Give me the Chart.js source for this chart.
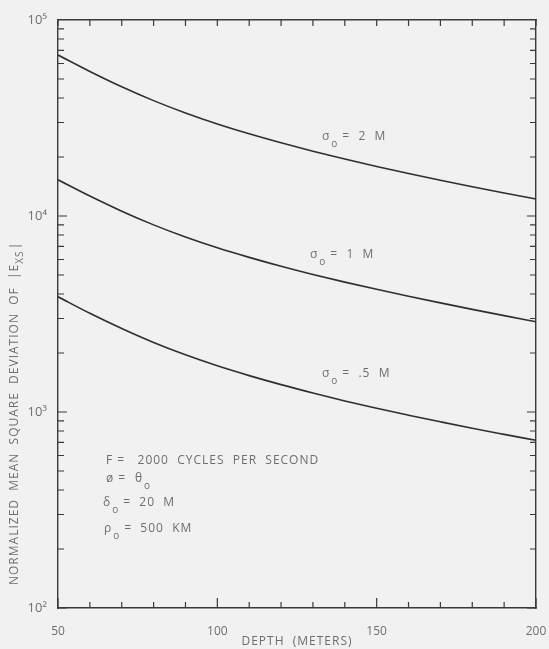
<!DOCTYPE html>
<html>
<head>
<meta charset="utf-8">
<script src="https://cdn.jsdelivr.net/npm/chart.js@4.4.1/dist/chart.umd.min.js"></script>
<style>
  html, body { margin: 0; padding: 0; background: #f1f1f1; }
  #wrap { width: 549px; height: 649px; position: relative; }
</style>
</head>
<body>
<div id="wrap"><canvas id="depthchart"></canvas></div>
<script>
const depth = [50, 60, 70, 80, 90, 100, 110, 120, 130, 140, 150, 160, 170, 180, 190, 200];
const sigma2 = [66300, 54640, 45640, 38780, 33540, 29480, 26270, 23630, 21400, 19520, 17880, 16460, 15220, 14110, 13110, 12210];
const sigma1 = [15300, 12640, 10580, 9010, 7810, 6880, 6150, 5540, 5030, 4600, 4225, 3896, 3603, 3340, 3102, 2888];
const sigma05 = [3870, 3189, 2666, 2263, 1957, 1720, 1533, 1379, 1250, 1139, 1044, 963, 891, 826, 769, 717];
const xTicks = [50, 100, 150, 200];
const yDecades = [100, 1000, 10000, 100000];
const supers = { 2: '\u00b2', 3: '\u00b3', 4: '\u2074', 5: '\u2075' };

const textColor = '#6e6e6e';
const lineColor = '#2f2f2f';
const font = '"Open Sans", "DejaVu Sans", sans-serif';

function pts(ys) {
    return depth.map((d, i) => ({ x: d, y: ys[i] }));
}

function curve(ys) {
    return {
        data: pts(ys),
        borderColor: lineColor,
        borderWidth: 1.6,
        pointRadius: 0,
        cubicInterpolationMode: 'monotone',
        fill: false
    };
}

// draws a label with an "o" subscript after the first glyph
function subLabel(ctx, sym, rest, x, y) {
    ctx.fillText(sym, x, y);
    const w = ctx.measureText(sym).width;
    ctx.save();
    ctx.font = '10px ' + font;
    ctx.fillText('o', x + w + 1, y + 7);
    ctx.restore();
    ctx.fillText(rest, x + w + 12, y);
}

const frameTicks = {
    id: 'frameTicks',
    afterDraw(chart) {
        const ctx = chart.ctx;
        const xs = chart.scales.x;
        const ys = chart.scales.y;
        const a = chart.chartArea;
        ctx.save();
        ctx.strokeStyle = '#3a3a3a';
        ctx.lineWidth = 1.2;
        ctx.beginPath();
        for (let v = 50; v <= 200; v += 10) {
            const px = xs.getPixelForValue(v);
            const len = (v % 50 === 0) ? 10 : 6;
            ctx.moveTo(px, a.bottom); ctx.lineTo(px, a.bottom - len);
            ctx.moveTo(px, a.top); ctx.lineTo(px, a.top + 6);
        }
        for (let e = 2; e <= 4; e++) {
            for (let m = 1; m <= 9; m++) {
                const py = ys.getPixelForValue(m * Math.pow(10, e));
                const len = m === 1 ? 9 : 6;
                ctx.moveTo(a.left, py); ctx.lineTo(a.left + len, py);
                ctx.moveTo(a.right, py); ctx.lineTo(a.right - len, py);
            }
        }
        ctx.stroke();

        // curve labels and parameter block
        ctx.fillStyle = textColor;
        ctx.font = '12px ' + font;
        ctx.letterSpacing = '1px';
        ctx.textBaseline = 'middle';
        ctx.textAlign = 'left';
        subLabel(ctx, '\u03c3', '=  2  M', 322, 137);
        subLabel(ctx, '\u03c3', '=  1  M', 310, 255);
        subLabel(ctx, '\u03c3', '=  .5  M', 322, 374);

        ctx.fillText('F =   2000  CYCLES  PER  SECOND', 106, 461);
        ctx.fillText('\u00f8 =', 106, 479);
        subLabel(ctx, '\u03b8', '', 135, 479);
        subLabel(ctx, '\u03b4', '=  20  M', 103, 503);
        subLabel(ctx, '\u03c1', '=  500  KM', 104, 529);

        // x axis title
        ctx.textAlign = 'center';
        ctx.fillText('DEPTH  (METERS)', (a.left + a.right) / 2, 642);

        // y axis title, rotated
        ctx.translate(15, 585);
        ctx.rotate(-Math.PI / 2);
        ctx.textAlign = 'left';
        const main = 'NORMALIZED  MEAN  SQUARE  DEVIATION  OF  ';
        ctx.fillText(main, 0, 0);
        let w = ctx.measureText(main).width;
        ctx.fillText('|E', w, 0);
        w += ctx.measureText('|E').width;
        ctx.font = '10px ' + font;
        ctx.fillText('XS', w, 5);
        w += ctx.measureText('XS').width + 1;
        ctx.font = '13px ' + font;
        ctx.fillText('|', w, 0);
        ctx.restore();
    }
};

function noPad(s) {
    s.paddingLeft = 0;
    s.paddingRight = 0;
}

new Chart(document.getElementById('depthchart'), {
    type: 'line',
    data: {
        datasets: [curve(sigma2), curve(sigma1), curve(sigma05)]
    },
    options: {
        responsive: true,
        maintainAspectRatio: false,
        animation: false,
        layout: { padding: 0 },
        plugins: {
            legend: { display: false },
            tooltip: { enabled: false }
        },
        scales: {
            x: {
                type: 'linear',
                position: 'bottom',
                min: 50,
                max: 200,
                afterBuildTicks: s => { s.ticks = xTicks.map(v => ({ value: v })); },
                afterFit: s => { s.height = 41; noPad(s); },
                ticks: { color: textColor, font: { family: font, size: 12 }, padding: 8, maxRotation: 0 },
                grid: { display: false },
                border: { color: '#3a3a3a', width: 1.4 }
            },
            xTop: {
                type: 'linear',
                position: 'top',
                min: 50,
                max: 200,
                afterFit: s => { s.height = 20; noPad(s); },
                ticks: { display: false },
                grid: { display: false },
                border: { color: '#3a3a3a', width: 1.4 }
            },
            y: {
                type: 'logarithmic',
                position: 'left',
                min: 100,
                max: 100000,
                afterBuildTicks: s => { s.ticks = yDecades.map(v => ({ value: v })); },
                afterFit: s => { s.width = 58; s.paddingTop = 0; s.paddingBottom = 0; },
                ticks: {
                    color: textColor,
                    font: { family: font, size: 13 },
                    padding: 3,
                    callback: v => '10' + supers[Math.round(Math.log10(v))]
                },
                grid: { display: false },
                border: { color: '#3a3a3a', width: 1.4 }
            },
            yRight: {
                type: 'logarithmic',
                position: 'right',
                min: 100,
                max: 100000,
                afterFit: s => { s.width = 13; },
                ticks: { display: false },
                grid: { display: false },
                border: { color: '#3a3a3a', width: 1.4 }
            }
        }
    },
    plugins: [frameTicks]
});
</script>
</body>
</html>
